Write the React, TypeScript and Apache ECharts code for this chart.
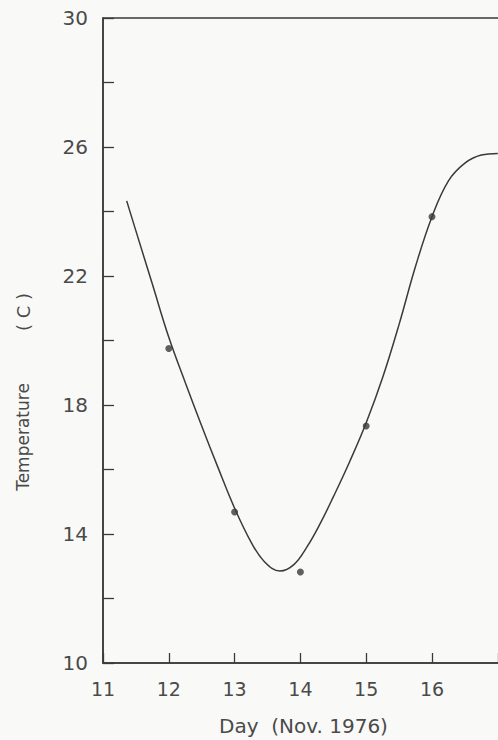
import React, { useEffect, useRef } from "react";
import * as echarts from "echarts";

// Measured daily temperatures (dots)
const dayValues = [12, 13, 14, 15, 16];
const tempValues = [19.75, 14.68, 12.82, 17.35, 23.84];

// Fitted curve
const curveDays = [11.36, 11.5, 11.75, 12.0, 12.25, 12.5, 12.75, 13.0, 13.25, 13.45, 13.69, 13.9, 14.1, 14.3, 14.5, 14.75, 15.0, 15.25, 15.5, 15.75, 16.0, 16.25, 16.5, 16.75, 17.0];
const curveTemps = [24.33, 23.4, 21.75, 20.1, 18.7, 17.35, 16.05, 14.8, 13.75, 13.15, 12.85, 13.05, 13.6, 14.32, 15.15, 16.25, 17.45, 18.85, 20.5, 22.3, 23.84, 24.95, 25.5, 25.75, 25.8];

const yTicks = [10, 12, 14, 16, 18, 20, 22, 24, 26, 28, 30];
const yLabelValues = [10, 14, 18, 22, 26, 30];
const xLabelValues = [11, 12, 13, 14, 15, 16];

const INK = "#3a3a3a";
const TEXT = "#4a4a4a";
const FONT = "DejaVu Sans";

export default function App() {
  const ref = useRef<HTMLDivElement>(null);
  useEffect(() => {
    if (!ref.current) return;
    const chart = echarts.init(ref.current, undefined, { renderer: "svg" });
    const pxPerDay = 65.8;
    chart.setOption({
      animation: false,
      backgroundColor: "#f9f9f7",
      grid: {
        left: 103,
        top: 18,
        width: pxPerDay * 7,
        height: 645,
        show: true,
        borderColor: INK,
        borderWidth: 1.5,
        backgroundColor: "transparent",
      },
      xAxis: {
        type: "value",
        min: 11,
        max: 18,
        interval: 1,
        axisLine: { show: true, lineStyle: { color: INK, width: 1.5 } },
        axisTick: { show: true, inside: true, length: 10, lineStyle: { color: INK, width: 1.3 } },
        splitLine: { show: false },
        axisLabel: {
          color: TEXT,
          fontFamily: FONT,
          fontSize: 19,
          margin: 16,
          formatter: (v: number) => (xLabelValues.includes(v) ? String(v) : ""),
        },
      },
      yAxis: {
        type: "value",
        min: yTicks[0],
        max: yTicks[yTicks.length - 1],
        interval: 2,
        axisLine: { show: true, lineStyle: { color: INK, width: 1.5 } },
        axisTick: { show: true, inside: true, length: 11, lineStyle: { color: INK, width: 1.3 } },
        splitLine: { show: false },
        axisLabel: {
          color: TEXT,
          fontFamily: FONT,
          fontSize: 20,
          margin: 15,
          formatter: (v: number) => (yLabelValues.includes(v) ? String(v) : ""),
        },
      },
      graphic: [
        {
          type: "text",
          left: 219,
          top: 716,
          style: { text: "Day  (Nov. 1976)", fill: TEXT, font: `20px ${FONT}` },
        },
        {
          type: "text",
          x: 23,
          y: 437,
          rotation: Math.PI / 2,
          style: { text: "Temperature", fill: TEXT, font: `17px ${FONT}`, align: "center", verticalAlign: "middle" },
        },
        {
          type: "text",
          x: 23,
          y: 312,
          rotation: Math.PI / 2,
          style: { text: "( C )", fill: TEXT, font: `18px ${FONT}`, align: "center", verticalAlign: "middle" },
        },
      ],
      series: [
        {
          type: "line",
          data: curveDays.map((d, i) => [d, curveTemps[i]]),
          smooth: 0.4,
          showSymbol: false,
          symbol: "none",
          lineStyle: { color: INK, width: 1.5 },
          z: 2,
        },
        {
          type: "scatter",
          data: dayValues.map((d, i) => [d, tempValues[i]]),
          symbolSize: 7,
          itemStyle: { color: INK },
          z: 3,
        },
      ],
    });
    return () => chart.dispose();
  }, []);
  return (
    <div style={{ position: "fixed", left: 0, top: 0, width: 498, height: 740, overflow: "hidden", background: "#f9f9f7" }}>
      <div ref={ref} style={{ width: 600, height: 740 }} />
    </div>
  );
}
